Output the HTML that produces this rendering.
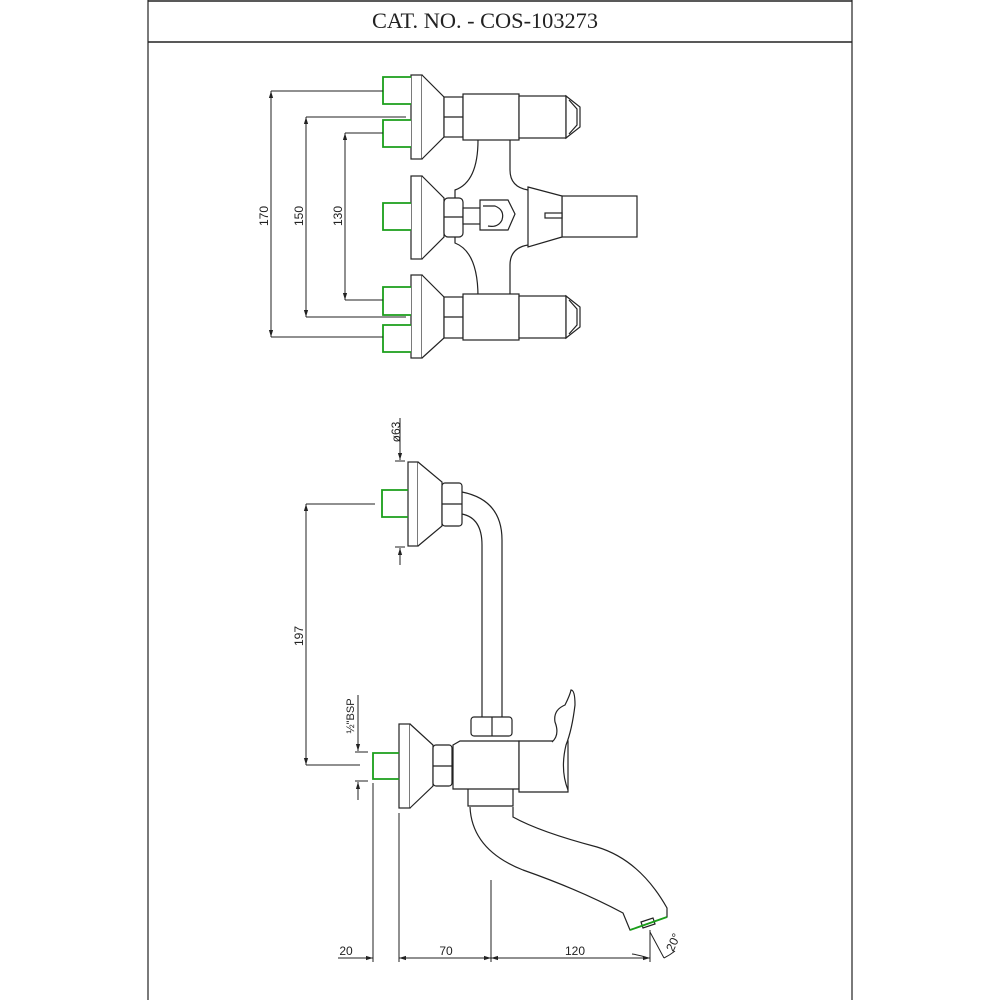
<!DOCTYPE html>
<html><head><style>
html,body{margin:0;padding:0;background:#fff;}
svg{display:block;}
text{font-family:"Liberation Sans",sans-serif;fill:#222;}
</style></head><body>
<svg width="1000" height="1000" viewBox="0 0 1000 1000" xmlns="http://www.w3.org/2000/svg">
<defs>
<marker id="a" viewBox="0 0 10 10" refX="10" refY="5" markerWidth="7" markerHeight="7" orient="auto-start-reverse"><path d="M0,2 L10,5 L0,8 z" fill="#222"/></marker>
</defs>
<g stroke="#222" stroke-width="1.2" fill="none">
<line x1="148" y1="0" x2="148" y2="1000"/>
<line x1="852" y1="0" x2="852" y2="1000"/>
<line x1="148" y1="1" x2="852" y2="1" stroke-width="1.5"/>
<line x1="148" y1="42" x2="852" y2="42" stroke-width="1.5"/>
</g>
<text x="485" y="28" font-size="22" text-anchor="middle" style="font-family:'Liberation Serif',serif" textLength="226" lengthAdjust="spacingAndGlyphs">CAT. NO. - COS-103273</text>

<!-- TOP VIEW -->
<g stroke="#222" stroke-width="1.2" fill="#fff">
<path d="M478,140 Q478,182 455,190 L455,243 Q478,252 478,297 M510,140 L510,170 Q510,187 528,190 M528,245 Q510,248 510,265 L510,297" fill="none"/>
<!-- top row -->
<rect x="411" y="75" width="11" height="84"/>
<path d="M422,75 L444,97 L444,137 L422,159"/>
<rect x="444" y="97" width="19" height="40"/><line x1="444" y1="117" x2="463" y2="117"/>
<rect x="463" y="94" width="56" height="46"/>
<rect x="519" y="96" width="47" height="42"/>
<path d="M566,96 L580,107 L580,127 L566,138 Z"/><path d="M569,100 L577,109 L577,125 L569,134" fill="none"/>
<!-- middle row -->
<rect x="411" y="176" width="11" height="83"/>
<path d="M422,176 L444,198 L444,237 L422,259"/>
<rect x="444" y="198" width="19" height="39" rx="4"/><line x1="444" y1="217" x2="463" y2="217"/>
<rect x="463" y="208" width="20" height="16"/>
<path d="M480,200 L508,200 L515,214 L508,230 L480,230 Z"/>
<path d="M483,206 L495,206 Q505,210 502,220 Q498,228 488,226" fill="none"/>
<rect x="562" y="196" width="75" height="41"/>
<path d="M528,187 L562,196 L562,237 L528,247 Z"/>
<rect x="545" y="213" width="17" height="5"/>
<!-- bottom row -->
<rect x="411" y="275" width="11" height="83"/>
<path d="M422,275 L444,297 L444,338 L422,358"/>
<rect x="444" y="297" width="19" height="41"/><line x1="444" y1="317" x2="463" y2="317"/>
<rect x="463" y="294" width="56" height="46"/>
<rect x="519" y="296" width="47" height="42"/>
<path d="M566,296 L580,307 L580,327 L566,338 Z"/><path d="M569,300 L577,309 L577,325 L569,334" fill="none"/>
</g>
<g stroke="#1a9e1a" stroke-width="1.8" fill="#fff">
<path d="M411,77 L383,77 L383,104 L411,104"/>
<path d="M411,120 L383,120 L383,147 L411,147"/>
<path d="M411,203 L383,203 L383,230 L411,230"/>
<path d="M411,287 L383,287 L383,315 L411,315"/>
<path d="M411,325 L383,325 L383,352 L411,352"/>
</g>
<g stroke="#222" stroke-width="1" fill="none">
<line x1="271" y1="91" x2="383" y2="91"/><line x1="271" y1="337" x2="383" y2="337"/>
<line x1="271" y1="91" x2="271" y2="337" marker-start="url(#a)" marker-end="url(#a)"/>
<line x1="306" y1="117" x2="406" y2="117"/><line x1="306" y1="317" x2="406" y2="317"/>
<line x1="306" y1="117" x2="306" y2="317" marker-start="url(#a)" marker-end="url(#a)"/>
<line x1="345" y1="133" x2="383" y2="133"/><line x1="345" y1="300" x2="383" y2="300"/>
<line x1="345" y1="133" x2="345" y2="300" marker-start="url(#a)" marker-end="url(#a)"/>
</g>
<text font-size="12" transform="translate(268,216) rotate(-90)" text-anchor="middle">170</text>
<text font-size="12" transform="translate(303,216) rotate(-90)" text-anchor="middle">150</text>
<text font-size="12" transform="translate(342,216) rotate(-90)" text-anchor="middle">130</text>

<!-- SIDE VIEW -->
<g stroke="#222" stroke-width="1.2" fill="#fff">
<path d="M462,492 Q502,500 502,540 L502,717 M462,514 Q482,518 482,545 L482,717" fill="none"/>
<rect x="408" y="462" width="10" height="84"/>
<path d="M418,462 L442,482 L442,526 L418,546"/>
<rect x="442" y="483" width="20" height="43" rx="3"/><line x1="442" y1="504" x2="462" y2="504"/>
<path d="M468,789 L468,806 L513,806 L513,789" />
<path d="M470,807 Q472,850 523,870 Q580,890 623,913 L630,930 L667,917 L667,908 Q640,860 597,847 Q540,832 513,817 L513,807" />
<path d="M641,922 L653,918 L655,924 L643,928 Z" fill="none"/>
<rect x="399" y="724" width="11" height="84"/>
<path d="M410,724 L433,745 L433,786 L410,808"/>
<rect x="433" y="745" width="19" height="41" rx="3"/><line x1="433" y1="766" x2="452" y2="766"/>
<path d="M453,745 L460,741 L519,741 L519,789 L453,789 Z"/>
<path d="M519,741 L568,741 L568,792 L519,792 Z"/>
<rect x="471" y="717" width="41" height="19" rx="3"/><line x1="492" y1="717" x2="492" y2="736"/>
<path d="M552,742 Q560,735 555,722 Q553,710 565,705 Q570,695 571,690 Q575,690 575,705 Q572,730 566,745 Q560,770 568,790" />
</g>
<g stroke="#1a9e1a" stroke-width="1.8" fill="none">
<path d="M408,490 L382,490 L382,517 L408,517"/>
<path d="M399,753 L373,753 L373,779 L399,779"/>
<path d="M630,930 L667,917"/>
</g>
<g stroke="#222" stroke-width="1" fill="none">
<line x1="400" y1="418" x2="400" y2="460" marker-end="url(#a)"/>
<line x1="395" y1="461" x2="405" y2="461"/>
<line x1="400" y1="565" x2="400" y2="548" marker-end="url(#a)"/>
<line x1="395" y1="547" x2="405" y2="547"/>
<line x1="306" y1="504" x2="375" y2="504"/>
<line x1="306" y1="765" x2="360" y2="765"/>
<line x1="306" y1="504" x2="306" y2="765" marker-start="url(#a)" marker-end="url(#a)"/>
<line x1="358" y1="695" x2="358" y2="751" marker-end="url(#a)"/>
<line x1="355" y1="752" x2="368" y2="752"/>
<line x1="358" y1="800" x2="358" y2="782" marker-end="url(#a)"/>
<line x1="355" y1="781" x2="368" y2="781"/>
<line x1="373" y1="783" x2="373" y2="962"/>
<line x1="399" y1="813" x2="399" y2="962"/>
<line x1="491" y1="880" x2="491" y2="962"/>
<line x1="650" y1="930" x2="650" y2="962"/>
<line x1="338" y1="958" x2="373" y2="958" marker-end="url(#a)"/>
<line x1="399" y1="958" x2="491" y2="958" marker-start="url(#a)" marker-end="url(#a)"/>
<line x1="491" y1="958" x2="650" y2="958" marker-start="url(#a)" marker-end="url(#a)"/>
<line x1="650" y1="932" x2="664" y2="958"/>
<path d="M632,954 Q640,955 648,958"/>
<path d="M664,958 Q670,955 675,951"/>
</g>
<text font-size="12" transform="translate(400,432) rotate(-90)" text-anchor="middle">ø63</text>
<text font-size="12" transform="translate(303,636) rotate(-90)" text-anchor="middle">197</text>
<text font-size="11" transform="translate(354,716) rotate(-90)" text-anchor="middle">½"BSP</text>
<text font-size="12" x="346" y="955" text-anchor="middle">20</text>
<text font-size="12" x="446" y="955" text-anchor="middle">70</text>
<text font-size="12" x="575" y="955" text-anchor="middle">120</text>
<text font-size="12" transform="translate(677,944) rotate(-65)" text-anchor="middle">20°</text>
</svg>
</body></html>
